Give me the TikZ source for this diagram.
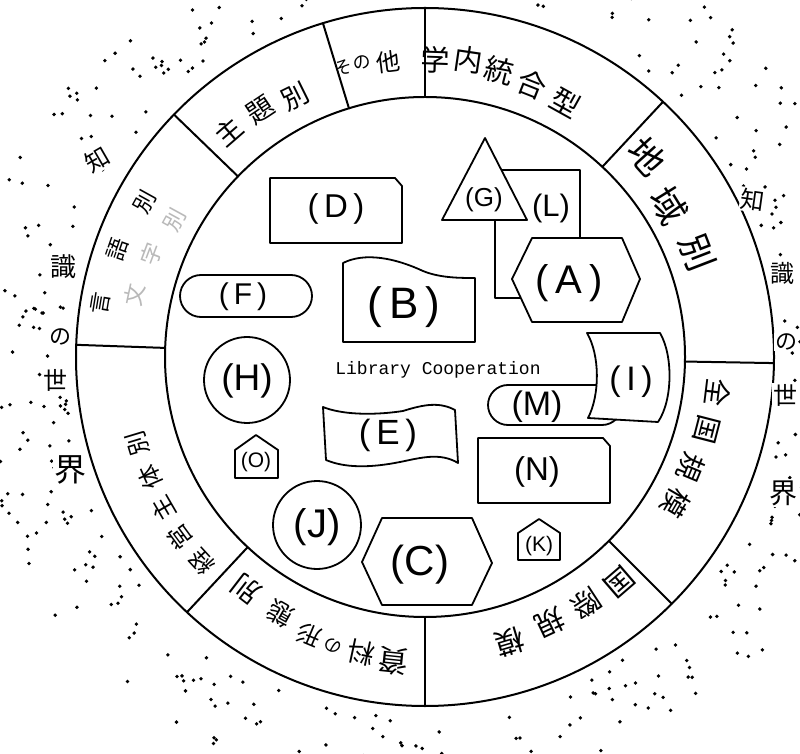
\documentclass[tikz,border=0pt]{standalone}
\usepackage{fontspec}
\setmainfont{Liberation Sans}
\newfontfamily\jpfont{Noto Sans CJK JP}
\newfontfamily\monofont{Liberation Mono}
\newcommand{\ringch}[5]{\node[inner sep=0pt, rotate={#2-90}, font=\jpfont\fontsize{#4}{#4}\selectfont] (#1) at (#2:#3) {#5};}
\begin{document}
\begin{tikzpicture}[x=1pt,y=1pt,
  ring/.style={line width=2pt, line cap=round},
  shp/.style={line width=1.8pt, fill=white, line join=round},
  lab/.style={inner sep=0pt, font=\fontsize{#1}{#1}\selectfont},
  outer/.style={inner sep=1pt, fill=white, font=\jpfont\fontsize{#1}{#1}\selectfont}]
\useasboundingbox (0,0) rectangle (800,753);
\clip (0,0) rectangle (800,753);
\fill[white] (0,0) rectangle (800,753);

\begin{scope}[shift={(425,396)}]
  % dots of the world of knowledge
  \pgfmathsetseed{2718}
  \foreach \i in {1,...,420}{
    \pgfmathsetmacro{\dq}{437.585*sin(12.9898*\i)}
    \pgfmathsetmacro{\da}{360*(\dq-floor(\dq))}
    \pgfmathsetmacro{\dr}{361+rnd*92}
    \fill (\da:\dr) circle (1.9);
  }
  \draw[ring] (0,0) circle (349);
  \draw[ring] (0,0) circle (260);
  \foreach \a in {47,90,107,136,178,227,270,315,-1}
    \draw[ring] (\a:260) -- (\a:349);

  \ringch{g1}{88}{297}{29}{学}
  \ringch{g2}{81.6}{300}{29}{内}
  \ringch{g3}{75.4}{296}{29}{統}
  \ringch{g4}{68.5}{293}{29}{合}
  \ringch{g5}{61}{291}{29}{型}

  \ringch{s1}{105.8}{301}{18}{そ}
  \ringch{s2}{102}{301}{18}{の}
  \ringch{s3}{97.1}{297}{24}{他}

  \ringch{t1}{131}{299}{27}{主}
  \ringch{t2}{123.7}{297}{27}{題}
  \ringch{t3}{116.4}{291}{27}{別}

  \ringch{c1}{42}{299}{36}{地}
  \ringch{c2}{31.8}{287}{36}{域}
  \ringch{c3}{21}{292}{36}{別}

  \ringch{n1}{-7}{295}{28}{全}
  \ringch{n2}{-14.5}{291}{28}{国}
  \ringch{n3}{-22.5}{288}{28}{規}
  \ringch{n4}{-30.3}{290}{28}{模}

  \ringch{i1}{-49.2}{297}{29}{国}
  \ringch{i2}{-56.8}{295}{29}{際}
  \ringch{i3}{-64.8}{294}{29}{規}
  \ringch{i4}{-73.4}{298}{29}{模}

  \ringch{m1}{-96}{306}{30}{資}
  \ringch{m2}{-102.2}{303}{27}{料}
  \ringch{m3}{-107.6}{303}{18}{の}
  \ringch{m4}{-112.6}{301}{24}{形}
  \ringch{m5}{-119.5}{295}{26}{態}
  \ringch{m6}{-127.6}{293}{28}{別}

  \ringch{k1}{222.6}{303}{24}{経}
  \ringch{k2}{216.3}{304}{24}{営}
  \ringch{k3}{210.1}{302}{24}{主}
  \ringch{k4}{203.6}{300}{24}{体}
  \ringch{k5}{196.8}{300}{24}{別}

  \ringch{l1}{170.6}{329}{22}{言}
  \ringch{l2}{160.8}{326}{22}{語}
  \ringch{l3}{151}{320}{22}{別}
  \begin{scope}[gray!55]
    \ringch{l4}{168}{297}{22}{文}
    \ringch{l5}{159.5}{292}{22}{字}
    \ringch{l6}{151.3}{285}{22}{別}
  \end{scope}
\end{scope}

\begin{scope}[shift={(0,753)}, yscale=-1]
  % outer words
  \node[outer=24, rotate=30] (wl1) at (97,160) {知};
  \node[outer=26] (wl2) at (63,267) {識};
  \node[outer=22] (wl3) at (60,337) {の};
  \node[outer=24] (wl4) at (55,380) {世};
  \node[outer=32] (wl5) at (70,470) {界};
  \node[outer=24, rotate=-8] (wr1) at (753,200) {知};
  \node[outer=24] (wr2) at (782,273) {識};
  \node[outer=22] (wr3) at (786,342) {の};
  \node[outer=24] (wr4) at (785,395) {世};
  \node[outer=28] (wr5) at (783,493) {界};

  % shapes
  \draw[shp] (270,178) -- (395,178) -- (402,186) -- (402,243) -- (270,243) -- cycle;
  \node[lab=33] (D) at (336,209) {(\,D\,)};

  \draw[shp, rounded corners=21] (180,275) rectangle (312,317);
  \node[lab=30] (F) at (243,297) {(\,F\,)};

  \draw[shp] (343,263) .. controls (365,252) and (395,258) .. (423,271)
             .. controls (440,278) and (460,278) .. (475,278) -- (475,342) -- (343,342) -- cycle;
  \node[lab=44] (B) at (404,307) {(\,B\,)};

  \draw[shp] (495,170) rectangle (580,298);
  \draw[shp] (485,138) -- (527,220) -- (442,220) -- cycle;
  \node[lab=26] (G) at (484,200) {(G)};
  \node[lab=31] (L) at (551,208) {(L)};
  \draw[shp] (532,238) -- (622,238) -- (640,279) -- (622,322) -- (532,322) -- (512,279) -- cycle;
  \node[lab=40] (A) at (569,283) {(\,A\,)};

  \draw[shp] (247,380) circle (43);
  \node[lab=37] (H) at (247,381) {(H)};

  \node[inner sep=0pt, font=\monofont\fontsize{18}{18}\selectfont] (LC) at (438,370) {Library Cooperation};

  \draw[shp, rounded corners=20] (488,385) rectangle (622,425);
  \node[lab=34] (M) at (537,407) {(M)};
  \draw[shp] (587,333) -- (660,333) .. controls (673,355) and (673,400) .. (658,422)
             -- (588,418) .. controls (600,395) and (600,355) .. cycle;
  \node[lab=34] (I) at (631,382) {(\,I\,)};

  \draw[shp] (323,407) .. controls (340,414) and (370,416) .. (403,411)
             .. controls (425,404) and (440,402) .. (455,410) -- (458,463)
             .. controls (440,452) and (420,458) .. (400,462)
             .. controls (370,468) and (345,468) .. (326,460) -- cycle;
  \node[lab=35] (E) at (388,435) {(\,E\,)};

  \draw[shp] (235,478) -- (235,450) -- (256,435) -- (278,450) -- (278,478) -- cycle;
  \node[lab=21] (O) at (256,462) {(O)};

  \draw[shp] (317,525) circle (44);
  \node[lab=40] (J) at (317,527) {(J)};

  \draw[shp] (382,518) -- (472,518) -- (492,563) -- (472,605) -- (382,605) -- (362,562) -- cycle;
  \node[lab=42] (C) at (420,565) {(C)};

  \draw[shp] (478,438) -- (603,438) -- (610,446) -- (610,503) -- (478,503) -- cycle;
  \node[lab=33] (N) at (537,472) {(N)};

  \draw[shp] (518,560) -- (518,533) -- (539,519) -- (560,533) -- (560,560) -- cycle;
  \node[lab=21] (K) at (539,546) {(K)};
\end{scope}
\end{tikzpicture}
\end{document}
